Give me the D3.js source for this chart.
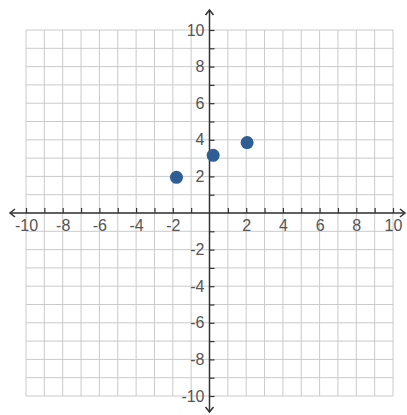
<!DOCTYPE html>
<html>
<head>
<meta charset="utf-8">
<script src="https://cdn.jsdelivr.net/npm/d3@7/dist/d3.min.js"></script>
<style>
  body { margin: 0; background: #fff; }
  .lbl text { font-family: "Liberation Sans", Arial, sans-serif; font-size: 16px; fill: #555; }
</style>
</head>
<body>
<script>
// data
var pointX = [-1.8, 0.2, 2.05];
var pointY = [1.95, 3.15, 3.85];
var gridValues = d3.range(-10, 11);
var labelValues = [-10, -8, -6, -4, -2, 2, 4, 6, 8, 10];

var W = 407, H = 415;

//scales for the plane, both axes go from -10 to 10
var xScale = d3.scaleLinear()
               .domain([-10, 10])
               .range([26, 393]);

var yScale = d3.scaleLinear()
               .domain([-10, 10])
               .range([396, 30]);

var svg = d3.select("body")
            .append("svg")
            .attr("width", W)
            .attr("height", H);

//grid lines every unit
var grid = svg.append("g").attr("stroke", "#cacaca").attr("stroke-width", 1);

grid.selectAll(".v")
    .data(gridValues)
    .enter()
    .append("line")
    .attr("x1", function(d){ return xScale(d); })
    .attr("x2", function(d){ return xScale(d); })
    .attr("y1", yScale(10))
    .attr("y2", yScale(-10));

grid.selectAll(".h")
    .data(gridValues)
    .enter()
    .append("line")
    .attr("x1", xScale(-10))
    .attr("x2", xScale(10))
    .attr("y1", function(d){ return yScale(d); })
    .attr("y2", function(d){ return yScale(d); });

var x0 = xScale(0), y0 = yScale(0);

//tick marks: above the x axis, right of the y axis
var xTicks = svg.append("g")
    .attr("transform", "translate(0," + y0 + ")")
    .call(d3.axisTop(xScale).tickValues(gridValues.filter(function(d){ return d != 0; })).tickSize(5).tickFormat(""));

var yTicks = svg.append("g")
    .attr("transform", "translate(" + x0 + ",0)")
    .call(d3.axisRight(yScale).tickValues(gridValues.filter(function(d){ return d != 0; })).tickSize(5).tickFormat(""));

svg.selectAll(".domain").remove();
svg.selectAll(".tick line").attr("stroke", "#333").attr("stroke-width", 1.2);

//labels
var xLabels = svg.append("g")
    .attr("class", "lbl")
    .attr("transform", "translate(0," + (y0 + 4) + ")")
    .call(d3.axisBottom(xScale).tickValues(labelValues).tickSize(0).tickFormat(function(d){ return d < 0 ? "-" + (-d) : d; }));

var yLabels = svg.append("g")
    .attr("class", "lbl")
    .attr("transform", "translate(" + (x0 - 2) + ",0)")
    .call(d3.axisLeft(yScale).tickValues(labelValues).tickSize(0).tickFormat(function(d){ return d < 0 ? "-" + (-d) : d; }));

xLabels.select(".domain").remove();
yLabels.select(".domain").remove();
svg.selectAll(".lbl text").attr("font-family", null).attr("font-size", null).attr("fill", null);

//axis lines with open arrowheads
var axes = svg.append("g").attr("stroke", "#333").attr("stroke-width", 1.5).attr("fill", "none");

axes.append("line").attr("x1", 10).attr("x2", 405).attr("y1", y0).attr("y2", y0);
axes.append("line").attr("x1", x0).attr("x2", x0).attr("y1", 10).attr("y2", 412);

axes.append("path").attr("d", "M" + 15 + "," + (y0 - 4) + "L10," + y0 + "L15," + (y0 + 4));
axes.append("path").attr("d", "M" + 400 + "," + (y0 - 4) + "L405," + y0 + "L400," + (y0 + 4));
axes.append("path").attr("d", "M" + (x0 - 4) + ",15L" + x0 + ",10L" + (x0 + 4) + ",15");
axes.append("path").attr("d", "M" + (x0 - 4) + ",407L" + x0 + ",412L" + (x0 + 4) + ",407");

//points
svg.append("g")
   .selectAll("circle")
   .data(d3.range(pointX.length))
   .enter()
   .append("circle")
   .attr("cx", function(i){ return xScale(pointX[i]); })
   .attr("cy", function(i){ return yScale(pointY[i]); })
   .attr("r", 6.5)
   .attr("fill", "#2e5e94");
</script>
</body>
</html>
